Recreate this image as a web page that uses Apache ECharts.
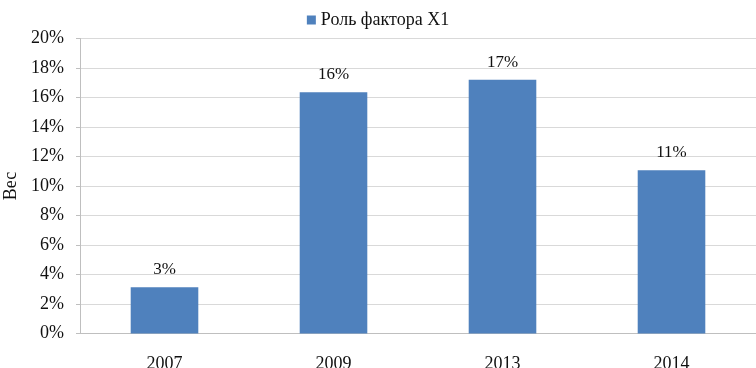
<!DOCTYPE html>
<html>
<head>
<meta charset="utf-8">
<script src="https://cdn.jsdelivr.net/npm/echarts@6/dist/echarts.min.js"></script>
<style>html,body{margin:0;padding:0;background:#fff}#c{width:756px;height:368px}</style>
</head>
<body>
<div id="c"></div>
<script>
var categories = ['2007', '2009', '2013', '2014'];
var seriesName = 'Роль фактора X1';
var values = [3.14, 16.35, 17.2, 11.07];
var yAxisName = 'Вес';

var FONT = '"Liberation Serif", "Times New Roman", serif';
var chart = echarts.init(document.getElementById('c'), null, {renderer: 'canvas'});
chart.setOption({
  animation: false,
  textStyle: {fontFamily: FONT, color: '#111'},
  legend: {
    data: [seriesName],
    top: 6, left: 'center',
    icon: 'rect', itemWidth: 9, itemHeight: 9, itemGap: 10,
    textStyle: {fontFamily: FONT, fontSize: 18, color: '#111'}
  },
  grid: {left: 80, right: 0, top: 38.5, bottom: 34.5, containLabel: false, outerBoundsMode: 'none'},
  xAxis: {
    type: 'category', data: categories,
    axisLine: {lineStyle: {color: '#bfbfbf'}},
    axisTick: {show: false},
    axisLabel: {fontFamily: FONT, fontSize: 18, color: '#111', margin: 22}
  },
  yAxis: {
    type: 'value', min: 0, max: 20, interval: 2,
    name: yAxisName, nameLocation: 'middle', nameRotate: 90, nameGap: 60,
    nameTextStyle: {fontFamily: FONT, fontSize: 18, color: '#111'},
    axisLine: {show: true, lineStyle: {color: '#bfbfbf'}},
    axisTick: {show: true, length: 4, lineStyle: {color: '#bfbfbf'}},
    axisLabel: {formatter: '{value}%', fontFamily: FONT, fontSize: 18, color: '#111', margin: 16},
    splitLine: {lineStyle: {color: '#d9d9d9'}}
  },
  series: [{
    name: seriesName, type: 'bar', data: values,
    barCategoryGap: '60%',
    itemStyle: {color: '#4f81bd'},
    label: {
      show: true, position: 'top', distance: 9,
      fontFamily: FONT, fontSize: 17, color: '#111',
      formatter: function (p) { return Math.round(p.value) + '%'; }
    }
  }]
});
</script>
</body>
</html>
